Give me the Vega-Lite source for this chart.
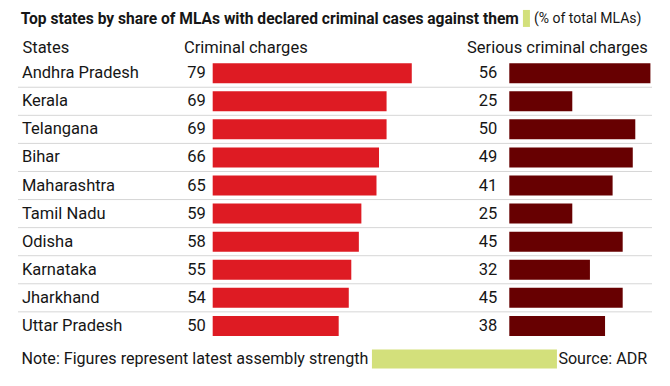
{
  "$schema": "https://vega.github.io/schema/vega-lite/v6.json",
  "width": 634,
  "height": 365,
  "autosize": "none",
  "padding": {"left": 18, "top": 3, "right": 18, "bottom": 18},
  "background": "white",
  "config": {
    "view": {"stroke": null},
    "font": "Roboto",
    "text": {"font": "Roboto", "fontSize": 16.5, "color": "#161616", "baseline": "middle"},
    "axis": {"disable": true}
  },
  "datasets": {
    "states": [
      {"state": "Andhra Pradesh", "criminal": 79, "serious": 56},
      {"state": "Kerala", "criminal": 69, "serious": 25},
      {"state": "Telangana", "criminal": 69, "serious": 50},
      {"state": "Bihar", "criminal": 66, "serious": 49},
      {"state": "Maharashtra", "criminal": 65, "serious": 41},
      {"state": "Tamil Nadu", "criminal": 59, "serious": 25},
      {"state": "Odisha", "criminal": 58, "serious": 45},
      {"state": "Karnataka", "criminal": 55, "serious": 32},
      {"state": "Jharkhand", "criminal": 54, "serious": 45},
      {"state": "Uttar Pradesh", "criminal": 50, "serious": 38}
    ]
  },
  "layer": [
    {
      "data": {"name": "states"},
      "transform": [{"filter": "datum.state !== 'Uttar Pradesh'"}],
      "mark": {"type": "rule", "color": "#d6d6d6", "strokeWidth": 1, "yOffset": 14.05},
      "encoding": {
        "y": {"field": "state", "type": "ordinal", "axis": null,
              "scale": {"domain": ["_t", "_h", "Andhra Pradesh", "Kerala", "Telangana", "Bihar", "Maharashtra", "Tamil Nadu", "Odisha", "Karnataka", "Jharkhand", "Uttar Pradesh", "_f"], "paddingInner": 0, "paddingOuter": 0}}
      }
    },
    {
      "data": {"name": "states"},
      "mark": {"type": "bar", "color": "#de1b23", "height": 20},
      "encoding": {
        "x": {"field": "criminal", "type": "quantitative", "axis": null, "scale": {"domain": [-77.26, 174.33], "nice": false}},
        "y": {"field": "state", "type": "ordinal"}
      }
    },
    {
      "data": {"name": "states"},
      "mark": {"type": "bar", "color": "#670001", "height": 20, "xOffset": 296.6, "x2Offset": 296.6},
      "encoding": {
        "x": {"field": "serious", "type": "quantitative"},
        "y": {"field": "state", "type": "ordinal"}
      }
    },
    {
      "data": {"name": "states"},
      "mark": {"type": "text", "align": "right", "dx": -7},
      "encoding": {
        "x": {"datum": 0, "type": "quantitative"},
        "y": {"field": "state", "type": "ordinal"},
        "text": {"field": "criminal", "type": "quantitative"}
      }
    },
    {
      "data": {"name": "states"},
      "mark": {"type": "text", "align": "right", "dx": 284.6},
      "encoding": {
        "x": {"datum": 0, "type": "quantitative"},
        "y": {"field": "state", "type": "ordinal"},
        "text": {"field": "serious", "type": "quantitative"}
      }
    },
    {
      "data": {"name": "states"},
      "mark": {"type": "text", "align": "left"},
      "encoding": {
        "x": {"datum": -75.7, "type": "quantitative"},
        "y": {"field": "state", "type": "ordinal"},
        "text": {"field": "state", "type": "nominal"}
      }
    },
    {
      "data": {"values": [{"row": "_h", "label": "States"}]},
      "mark": {"type": "text", "align": "left", "dy": 3},
      "encoding": {
        "x": {"datum": -75.5, "type": "quantitative"},
        "y": {"field": "row", "type": "ordinal"},
        "text": {"field": "label", "type": "nominal"}
      }
    },
    {
      "data": {"values": [{"row": "_h", "label": "Criminal charges"}]},
      "mark": {"type": "text", "align": "left", "dy": 3},
      "encoding": {
        "x": {"datum": -11.4, "type": "quantitative"},
        "y": {"field": "row", "type": "ordinal"},
        "text": {"field": "label", "type": "nominal"}
      }
    },
    {
      "data": {"values": [{"row": "_h", "label": "Serious criminal charges"}]},
      "mark": {"type": "text", "align": "right", "dy": 3},
      "encoding": {
        "x": {"datum": 172.7, "type": "quantitative"},
        "y": {"field": "row", "type": "ordinal"},
        "text": {"field": "label", "type": "nominal"}
      }
    },
    {
      "data": {"values": [{"row": "_t", "label": "Top states by share of MLAs with declared criminal cases against them"}]},
      "mark": {"type": "text", "align": "left", "fontWeight": "bold", "fontSize": 15.6, "dy": 1.5},
      "encoding": {
        "x": {"datum": -76.2, "type": "quantitative"},
        "y": {"field": "row", "type": "ordinal"},
        "text": {"field": "label", "type": "nominal"}
      }
    },
    {
      "data": {"values": [{"row": "_t", "label": "highlight"}]},
      "mark": {"type": "tick", "color": "#d3e07b", "thickness": 7, "size": 17, "yOffset": 1.4, "opacity": 1},
      "encoding": {
        "x": {"datum": 124.5, "type": "quantitative"},
        "y": {"field": "row", "type": "ordinal"}
      }
    },
    {
      "data": {"values": [{"row": "_t", "label": "(% of total MLAs)"}]},
      "mark": {"type": "text", "align": "left", "fontSize": 14, "dy": 2},
      "encoding": {
        "x": {"datum": 127.5, "type": "quantitative"},
        "y": {"field": "row", "type": "ordinal"},
        "text": {"field": "label", "type": "nominal"}
      }
    },
    {
      "data": {"values": [{"row": "_f", "label": "footer band"}]},
      "mark": {"type": "tick", "color": "#d3e07b", "thickness": 185, "size": 19, "yOffset": 5, "opacity": 1},
      "encoding": {
        "x": {"datum": 99.9, "type": "quantitative"},
        "y": {"field": "row", "type": "ordinal"}
      }
    },
    {
      "data": {"values": [{"row": "_f", "label": "Note: Figures represent latest assembly strength"}]},
      "mark": {"type": "text", "align": "left", "dy": 5, "fontSize": 16.1},
      "encoding": {
        "x": {"datum": -75.9, "type": "quantitative"},
        "y": {"field": "row", "type": "ordinal"},
        "text": {"field": "label", "type": "nominal"}
      }
    },
    {
      "data": {"values": [{"row": "_f", "label": "Source: ADR"}]},
      "mark": {"type": "text", "align": "right", "dy": 5, "fontSize": 16.1},
      "encoding": {
        "x": {"datum": 172.4, "type": "quantitative"},
        "y": {"field": "row", "type": "ordinal"},
        "text": {"field": "label", "type": "nominal"}
      }
    }
  ]
}
